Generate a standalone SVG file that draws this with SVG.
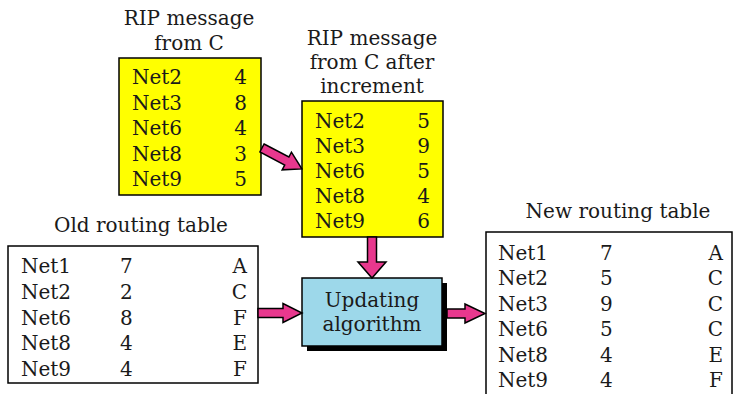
<svg xmlns="http://www.w3.org/2000/svg" width="734" height="394" viewBox="0 0 734 394">
<style>
text{font-family:"DejaVu Serif","Liberation Serif",serif;font-size:20px;fill:#1a1a1a}
.t{text-anchor:middle}
.e{text-anchor:end}
.box{stroke:#000;stroke-width:1.5}
.arr{fill:#E8388E;stroke:#000;stroke-width:1.5;stroke-linejoin:miter}
</style>
<rect width="734" height="394" fill="#fff"/>
<g id="rip">
<text class="t" x="189" y="25">RIP message</text>
<text class="t" x="189" y="50">from C</text>
<rect class="box" x="119" y="58" width="142" height="137" fill="#FFFF00"/>
<text x="132" y="84">Net2</text><text class="e" x="247" y="84">4</text>
<text x="132" y="109.5">Net3</text><text class="e" x="247" y="109.5">8</text>
<text x="132" y="135">Net6</text><text class="e" x="247" y="135">4</text>
<text x="132" y="160.5">Net8</text><text class="e" x="247" y="160.5">3</text>
<text x="132" y="186">Net9</text><text class="e" x="247" y="186">5</text>
</g>
<g id="ripinc">
<text class="t" x="372" y="45">RIP message</text>
<text class="t" x="372" y="69">from C after</text>
<text class="t" x="372" y="93">increment</text>
<rect class="box" x="302" y="101" width="141" height="136" fill="#FFFF00"/>
<text x="315" y="128">Net2</text><text class="e" x="430" y="128">5</text>
<text x="315" y="153">Net3</text><text class="e" x="430" y="153">9</text>
<text x="315" y="178">Net6</text><text class="e" x="430" y="178">5</text>
<text x="315" y="203">Net8</text><text class="e" x="430" y="203">4</text>
<text x="315" y="228">Net9</text><text class="e" x="430" y="228">6</text>
</g>
<g id="old">
<text class="t" x="141" y="232">Old routing table</text>
<rect class="box" x="8" y="246" width="250" height="137" fill="#fff"/>
<text x="21" y="273">Net1</text><text x="120" y="273">7</text><text class="e" x="247" y="273">A</text>
<text x="21" y="298.75">Net2</text><text x="120" y="298.75">2</text><text class="e" x="247" y="298.75">C</text>
<text x="21" y="324.5">Net6</text><text x="120" y="324.5">8</text><text class="e" x="247" y="324.5">F</text>
<text x="21" y="350.25">Net8</text><text x="120" y="350.25">4</text><text class="e" x="247" y="350.25">E</text>
<text x="21" y="376">Net9</text><text x="120" y="376">4</text><text class="e" x="247" y="376">F</text>
</g>
<g id="update">
<rect x="307" y="283" width="140" height="68" fill="#000"/>
<rect class="box" x="302" y="278" width="140" height="68" fill="#9DD8EA"/>
<text class="t" x="372" y="307">Updating</text>
<text class="t" x="372" y="331">algorithm</text>
</g>
<g id="new">
<text class="t" x="618" y="218">New routing table</text>
<rect class="box" x="486" y="232" width="246" height="172" fill="#fff"/>
<text x="498" y="260">Net1</text><text x="600" y="260">7</text><text class="e" x="723" y="260">A</text>
<text x="498" y="285.4">Net2</text><text x="600" y="285.4">5</text><text class="e" x="723" y="285.4">C</text>
<text x="498" y="310.8">Net3</text><text x="600" y="310.8">9</text><text class="e" x="723" y="310.8">C</text>
<text x="498" y="336.2">Net6</text><text x="600" y="336.2">5</text><text class="e" x="723" y="336.2">C</text>
<text x="498" y="361.6">Net8</text><text x="600" y="361.6">4</text><text class="e" x="723" y="361.6">E</text>
<text x="498" y="387">Net9</text><text x="600" y="387">4</text><text class="e" x="723" y="387">F</text>
</g>
<g id="connectors">
<polygon class="arr" transform="translate(262,148) rotate(27.7)" points="0,-4.5 28,-4.5 28,-10 45,0 28,10 28,4.5 0,4.5"/>
<polygon class="arr" points="367.5,237 376.5,237 376.5,262 386,262 372,278 358,262 367.5,262"/>
<polygon class="arr" points="258,308.5 283,308.5 283,303.5 302,313 283,322.5 283,317.5 258,317.5"/>
<polygon class="arr" points="447,309 465,309 465,304 485,313.5 465,323 465,318 447,318"/>
</g>
</svg>
